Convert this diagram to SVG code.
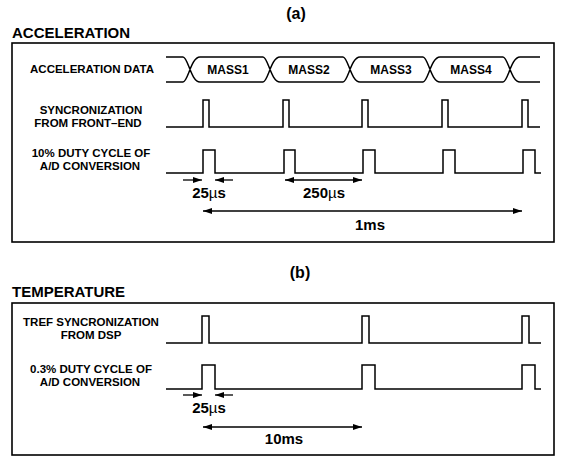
<svg xmlns="http://www.w3.org/2000/svg" width="564" height="457" viewBox="0 0 564 457">
<style>
text{font-family:"Liberation Sans",Arial,sans-serif;font-weight:bold;fill:#000}
.title{font-size:16px}
.sec{font-size:15px}
.lbl{font-size:11.5px;text-anchor:middle}
.mass{font-size:12px;text-anchor:middle}
.tm{font-size:15px;text-anchor:middle}
.mu{font-weight:normal}
.frame{fill:none;stroke:#000;stroke-width:1.6}
.wave{fill:none;stroke:#000;stroke-width:1.5;stroke-linejoin:miter}
.dim{fill:none;stroke:#000;stroke-width:1.3}
</style>
<defs>
<marker id="ah" viewBox="0 0 9 6" refX="9" refY="3" markerWidth="9" markerHeight="6" orient="auto-start-reverse" markerUnits="userSpaceOnUse">
<path d="M0,0 L9,3 L0,6 z" fill="#000"/>
</marker>
</defs>

<g id="panel-a">
<text class="title" x="296" y="19" text-anchor="middle">(a)</text>
<text class="sec" x="12" y="38">ACCELERATION</text>
<rect class="frame" x="12" y="43" width="542" height="199"/>
</g>

<g id="accel-data">
<text class="lbl" x="92" y="73">ACCELERATION DATA</text>
<path class="wave" d="M166,57 H183 C188,57 191,82 200,82 M166,82 H183 C188,82 191,57 200,57
M200,57 H263 C268,57 271,82 280,82 M200,82 H263 C268,82 271,57 280,57
M280,57 H343 C348,57 351,82 360,82 M280,82 H343 C348,82 351,57 360,57
M360,57 H423 C428,57 431,82 440,82 M360,82 H423 C428,82 431,57 440,57
M440,57 H503 C508,57 511,82 520,82 M440,82 H503 C508,82 511,57 520,57
M520,57 H540 M520,82 H540"/>
<text class="mass" x="228" y="74">MASS1</text>
<text class="mass" x="309" y="74">MASS2</text>
<text class="mass" x="391" y="74">MASS3</text>
<text class="mass" x="471" y="74">MASS4</text>
</g>

<g id="sync-front-end">
<text class="lbl" x="91" y="114">SYNCRONIZATION</text>
<text class="lbl" x="88" y="127">FROM FRONT–END</text>
<path class="wave" d="M166,127 H203 V100 H209 V127 H283 V100 H289 V127 H362 V100 H368 V127 H442 V100 H448 V127 H522 V100 H528 V127 H540"/>
</g>

<g id="duty-10">
<text class="lbl" x="91" y="157">10% DUTY CYCLE OF</text>
<text class="lbl" x="90" y="170">A/D CONVERSION</text>
<path class="wave" d="M166,173 H203 V150 H215 V173 H284 V150 H295 V173 H363 V150 H375 V173 H443 V150 H455 V173 H523 V150 H535 V173 H541"/>
</g>

<g id="panel-b">
<text class="title" x="300" y="278" text-anchor="middle">(b)</text>
<text class="sec" x="12" y="297">TEMPERATURE</text>
<rect class="frame" x="12" y="303" width="542" height="152"/>
</g>

<g id="tref-sync">
<text class="lbl" x="91" y="326">TREF SYNCRONIZATION</text>
<text class="lbl" x="91" y="339">FROM DSP</text>
<path class="wave" d="M166,343 H202 V316 H209 V343 H362 V316 H369 V343 H522 V316 H529 V343 H541"/>
</g>

<g id="duty-03">
<text class="lbl" x="91" y="373">0.3% DUTY CYCLE OF</text>
<text class="lbl" x="90" y="386">A/D CONVERSION</text>
<path class="wave" d="M166,389 H202 V365 H215 V389 H362 V365 H375 V389 H522 V365 H535 V389 H541"/>
</g>

<g id="connectors">
<line class="dim" x1="183" y1="180" x2="202" y2="180" marker-end="url(#ah)"/>
<line class="dim" x1="233" y1="180" x2="215" y2="180" marker-end="url(#ah)"/>
<line class="dim" x1="285" y1="180" x2="362" y2="180" marker-start="url(#ah)" marker-end="url(#ah)"/>
<line class="dim" x1="203" y1="211" x2="522" y2="211" marker-start="url(#ah)" marker-end="url(#ah)"/>
<line class="dim" x1="183" y1="395" x2="202" y2="395" marker-end="url(#ah)"/>
<line class="dim" x1="233" y1="395" x2="215" y2="395" marker-end="url(#ah)"/>
<line class="dim" x1="203" y1="427" x2="362" y2="427" marker-start="url(#ah)" marker-end="url(#ah)"/>
</g>

<g id="timing-labels">
<text class="tm" x="209" y="198">25<tspan class="mu">µ</tspan>s</text>
<text class="tm" x="324" y="198">250<tspan class="mu">µ</tspan>s</text>
<text class="tm" x="370" y="230">1ms</text>
<text class="tm" x="209" y="413">25<tspan class="mu">µ</tspan>s</text>
<text class="tm" x="284" y="444">10ms</text>
</g>
</svg>
